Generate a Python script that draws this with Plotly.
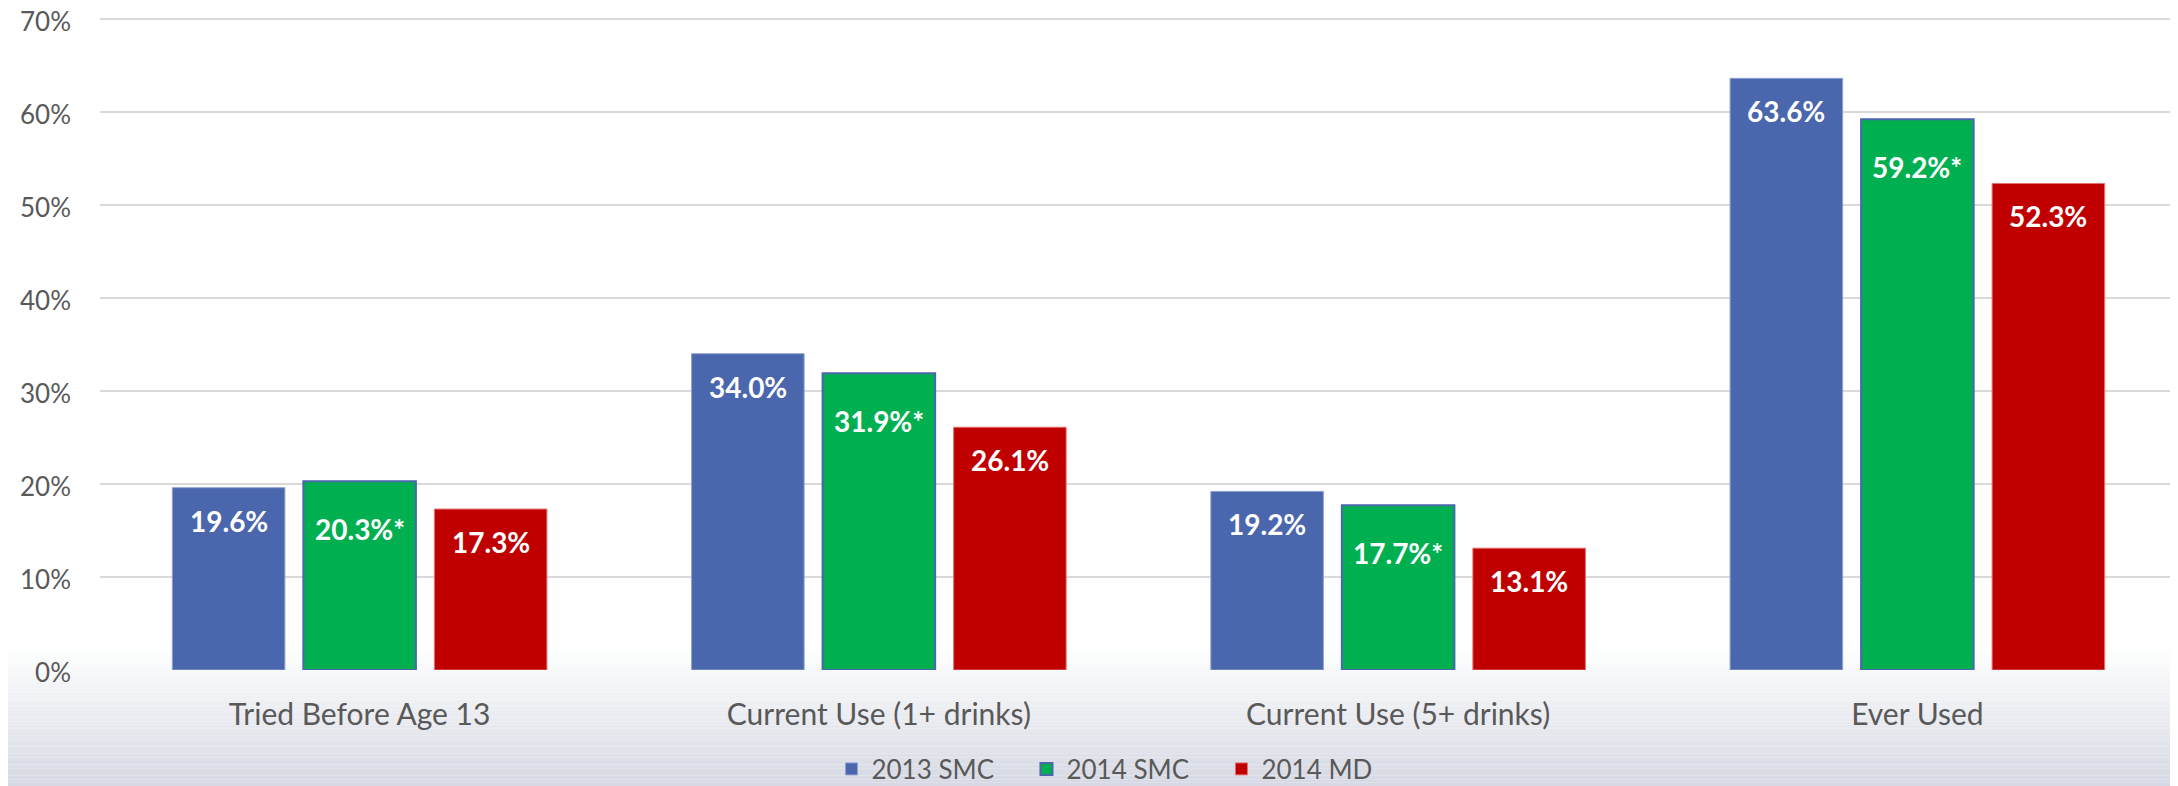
import plotly.graph_objects as go

categories = ["Tried Before Age 13", "Current Use (1+ drinks)", "Current Use (5+ drinks)", "Ever Used"]
series_names = ["2013 SMC", "2014 SMC", "2014 MD"]
smc_2013 = [19.6, 34.0, 19.2, 63.6]
smc_2014 = [20.3, 31.9, 17.7, 59.2]
md_2014 = [17.3, 26.1, 13.1, 52.3]
label_suffix = ["", "*", ""]
y_ticks = [0, 10, 20, 30, 40, 50, 60, 70]

series_values = [smc_2013, smc_2014, md_2014]
fill_colors = ["#4A66AC", "#00B050", "#C00000"]
line_colors = ["#8EA2D2", "#4A66AC", "#E57373"]
line_widths = [1, 2, 1]
label_yshift = [-33, -48, -33]
slot_px = 131

FONT = "Lato, 'Open Sans', sans-serif"
GREY = "#595959"

# the page body has an 8px margin, so the figure is sized/offset to compensate
OFF = 8
W, H = 2178 - OFF, 786 - OFF
Y_MAX = 70.3          # a hair above 70 so the top gridline stays inside the plot
TOP = 8               # figure-space top margin
BOTTOM = 116
plot_h = H - TOP - BOTTOM

fig = go.Figure()
for name, vals, fc, lc, lw in zip(series_names, series_values, fill_colors, line_colors, line_widths):
    fig.add_trace(go.Bar(
        name=name, x=categories, y=vals,
        marker=dict(color=fc, line=dict(color=lc, width=lw)),
        hoverinfo="skip",
    ))

annotations = []
for i, (vals, suf) in enumerate(zip(series_values, label_suffix)):
    for cat, v in zip(categories, vals):
        annotations.append(dict(
            x=cat, y=v, xref="x", yref="y",
            text=f"<b>{v:.1f}%{suf}</b>", showarrow=False,
            xshift=(i - 1) * slot_px, yshift=label_yshift[i],
            yanchor="middle", xanchor="center",
            font=dict(family=FONT, size=28, color="white"),
        ))

# gradient background at the bottom of the chart area (figure pixel coords)
shapes = []
plot_bottom = H - BOTTOM
top_px, bottom_px = plot_bottom - 25, H + 4
n = 40
c0 = (255, 255, 255)
c1 = (212, 216, 226)
for k in range(n):
    y0px = top_px + (bottom_px - top_px) * k / n
    y1px = top_px + (bottom_px - top_px) * (k + 1) / n
    t = (k + 0.5) / n
    col = tuple(round(c0[j] + (c1[j] - c0[j]) * t) for j in range(3))
    shapes.append(dict(
        type="rect", xref="paper", yref="paper", layer="below",
        x0=-0.1, x1=1.1,
        y0=(plot_bottom - y1px) / plot_h, y1=(plot_bottom - y0px) / plot_h,
        fillcolor="rgb(%d,%d,%d)" % col, line=dict(width=0),
    ))

fig.update_layout(
    width=W, height=H,
    margin=dict(l=100 - OFF, r=1, t=TOP, b=BOTTOM, autoexpand=False),
    paper_bgcolor="white", plot_bgcolor="rgba(0,0,0,0)",
    barmode="group", bargap=0.243, bargroupgap=0.141,
    font=dict(family=FONT, color=GREY),
    showlegend=True,
    legend=dict(
        orientation="h", x=0.493, xanchor="center", y=-99 / plot_h, yanchor="middle",
        font=dict(family=FONT, size=26, color=GREY),
        bgcolor="rgba(0,0,0,0)", traceorder="normal",
        entrywidth=150, entrywidthmode="pixels",
    ),
    xaxis=dict(
        showgrid=False, showline=False, zeroline=False, ticks="",
        tickfont=dict(family=FONT, size=30, color=GREY),
        ticklabelstandoff=24, automargin=False,
    ),
    yaxis=dict(
        range=[0, Y_MAX], tickvals=y_ticks, ticktext=[f"{t}%" for t in y_ticks],
        showgrid=True, gridcolor="#D9D9D9", gridwidth=2,
        zeroline=False, showline=False, ticks="",
        tickfont=dict(family=FONT, size=26, color=GREY),
        ticklabelstandoff=28, ticklabelshift=3,
        automargin=False, ticklabeloverflow="allow",
    ),
    annotations=annotations,
    shapes=shapes,
)

fig.write_html("out.html")
